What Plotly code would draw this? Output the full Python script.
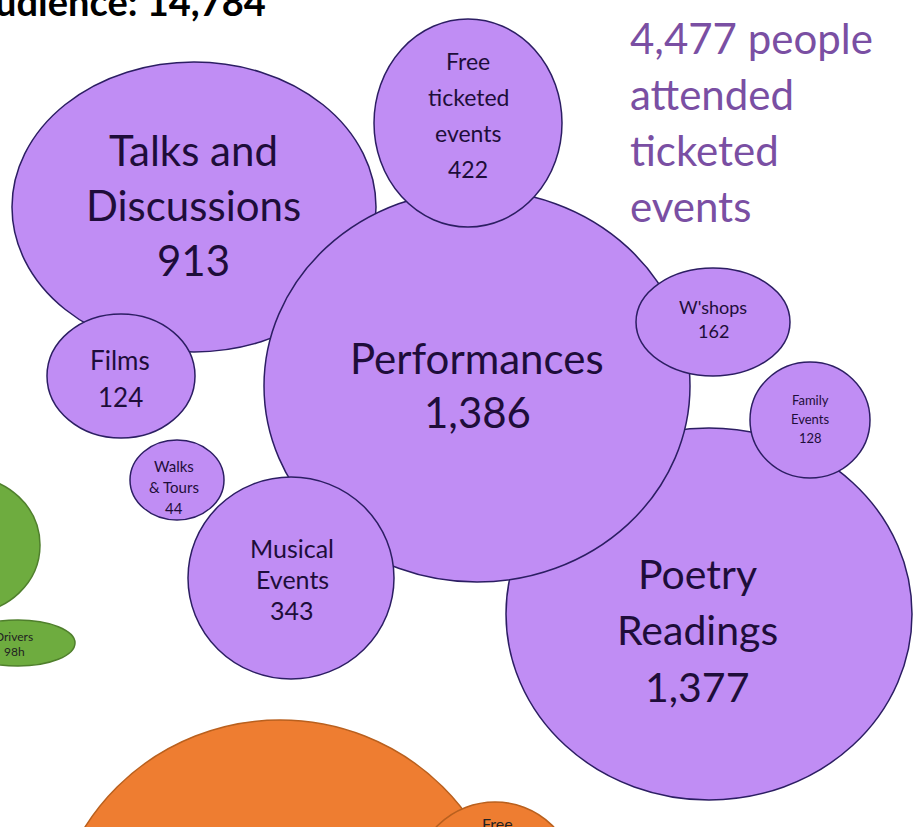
import plotly.graph_objects as go

# ---------------- data ----------------
categories = ["Talks and Discussions", "Free ticketed events", "Performances",
              "W'shops", "Family Events", "Poetry Readings", "Films",
              "Walks & Tours", "Musical Events"]
attendance = [913, 422, 1386, 162, 128, 1377, 124, 44, 343]
label_lines = [["Talks and", "Discussions"], ["Free", "ticketed", "events"],
               ["Performances"], ["W'shops"], ["Family", "Events"],
               ["Poetry", "Readings"], ["Films"], ["Walks", "& Tours"],
               ["Musical", "Events"]]

other_labels = ["", "Drivers", "", "Free"]
other_values = ["", "98h", "", ""]

total_audience = "14,784"
ticketed_total = "4,477"

# ---------------- layout geometry (pixel-like units) ----------------
# (cx, cy, rx, ry)
purple_geom = [(194, 207, 182, 145), (468, 123, 94, 104), (477, 386, 213, 196),
               (713, 322, 77, 54), (810, 420, 60, 58), (709, 614, 203, 186),
               (121, 376, 74, 62), (177, 480, 47, 40), (291, 578, 103, 101)]
# text: (x, first line y, line spacing, font size)
purple_text = [(193, 150, 55, 42), (468, 61, 36, 23), (477, 358, 54, 42),
               (713, 307, 24, 18), (810, 400, 19, 13), (697, 573, 56.5, 41),
               (120, 360, 37, 26), (174, 466, 21, 15), (292, 548, 31, 25)]
draw_order = [0, 5, 2, 1, 3, 4, 6, 7, 8]

other_geom = [(-32, 545, 72, 68), (18, 643, 57, 23), (280, 948, 230, 228), (495, 880, 80, 78)]
other_fill = ["#6EAC3F", "#6EAC3F", "#EE7D31", "#EE7D31"]
other_line = ["#4F7F2C", "#4F7F2C", "#B9601E", "#B9601E"]
other_text = [(0, 0, 0, 10), (14, 636, 15, 12), (0, 0, 0, 10), (497, 823, 16, 16)]

PURPLE_FILL = "#C08DF4"
PURPLE_LINE = "#2C1E63"
TEXT_DARK = "#1E0D3A"
SIDE_PURPLE = "#7A4FA3"
FONT = "Lato, 'Open Sans', sans-serif"

fig = go.Figure()
shapes = []
annotations = []

def add_ellipse(g, fill, line):
    cx, cy, rx, ry = g
    shapes.append(dict(type="circle", xref="x", yref="y",
                       x0=cx - rx, x1=cx + rx, y0=cy - ry, y1=cy + ry,
                       fillcolor=fill, line=dict(color=line, width=1.5),
                       layer="above"))

def add_lines(lines, t, color):
    x, y0, dy, fs = t
    for k, ln in enumerate(lines):
        if not ln:
            continue
        annotations.append(dict(x=x, y=y0 + k * dy, xref="x", yref="y",
                                text=ln, showarrow=False,
                                xanchor="center", yanchor="middle",
                                font=dict(family=FONT, size=fs, color=color)))

for i in range(4):
    add_ellipse(other_geom[i], other_fill[i], other_line[i])
for i in range(4):
    add_lines([other_labels[i], other_values[i]], other_text[i], "#222222")

for i in draw_order:
    add_ellipse(purple_geom[i], PURPLE_FILL, PURPLE_LINE)
for i in range(len(categories)):
    add_lines(label_lines[i] + [f"{attendance[i]:,}"], purple_text[i], TEXT_DARK)

# title (cropped at the top-left in the reference)
annotations.append(dict(x=268, y=1, xref="x", yref="y",
                        text=f"<b>Total audience: {total_audience}</b>",
                        showarrow=False, xanchor="right", yanchor="middle",
                        font=dict(family=FONT, size=38, color="#000000")))

side_lines = [f"{ticketed_total} people", "attended", "ticketed", "events"]
for k, ln in enumerate(side_lines):
    annotations.append(dict(x=628, y=38 + k * 56, xref="x", yref="y",
                            text=ln, showarrow=False,
                            xanchor="left", yanchor="middle",
                            font=dict(family=FONT, size=42, color=SIDE_PURPLE)))

fig.update_layout(
    width=917, height=827,
    margin=dict(l=0, r=0, t=0, b=0),
    paper_bgcolor="white", plot_bgcolor="white",
    xaxis=dict(range=[0, 917], visible=False, fixedrange=True),
    yaxis=dict(range=[827, 0], visible=False, fixedrange=True),
    shapes=shapes, annotations=annotations,
    showlegend=False,
)

fig.write_html("out.html", config={"displayModeBar": False},
               post_script="document.body.style.margin='0';document.body.style.padding='0';document.body.style.overflow='hidden';")
